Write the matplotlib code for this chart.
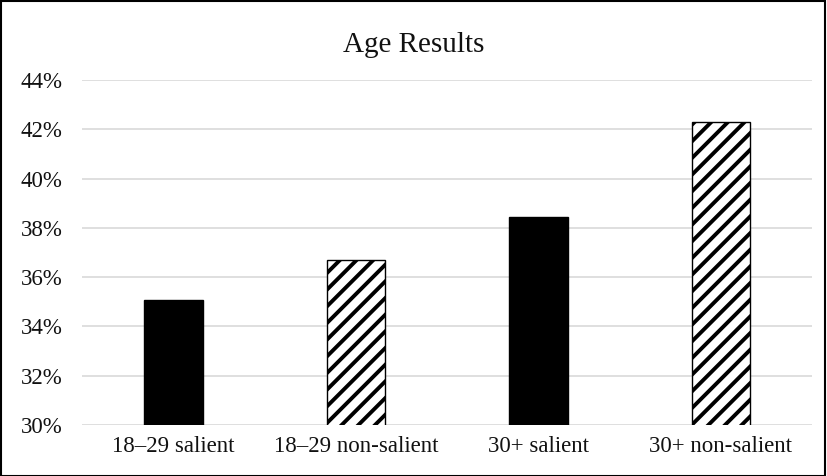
import matplotlib
matplotlib.use("Agg")
import matplotlib.pyplot as plt
from matplotlib.patches import Rectangle
from matplotlib.ticker import FuncFormatter

categories = ["18\u201329 salient", "18\u201329 non-salient", "30+ salient", "30+ non-salient"]
values = [35.08, 36.70, 38.45, 42.28]
hatches = ["", "//", "", "//"]
fills = ["black", "white", "black", "white"]
yticks = [30, 32, 34, 36, 38, 40, 42, 44]

plt.rcParams['font.family'] = ['Liberation Serif', 'DejaVu Serif']
plt.rcParams['hatch.linewidth'] = 2.8
plt.rcParams['hatch.color'] = 'black'

fig = plt.figure(figsize=(8.27, 4.76), dpi=100)
ax = fig.add_axes([0.0992, 0.107, 0.8828, 0.725])

x = range(len(categories))
for i in x:
    ax.bar(i, values[i], width=0.32, bottom=0, color=fills[i], hatch=hatches[i],
           edgecolor="black", linewidth=1.0, zorder=3)

ax.set_ylim(30, 44)
ax.set_xlim(-0.5, len(categories) - 0.5)
ax.set_yticks(yticks)
ax.yaxis.set_major_formatter(FuncFormatter(lambda v, p: f"{v:.0f}%"))
ax.set_xticks(list(x))
ax.set_xticklabels(categories)
ax.tick_params(axis='both', length=0, labelsize=16.5, colors='#111111')
ax.tick_params(axis='y', pad=14)
ax.tick_params(axis='x', pad=8)

ax.grid(axis='y', color='#d9d9d9', linewidth=1.2, zorder=0)
for s in ax.spines.values():
    s.set_visible(False)

fig.text(0.5, 0.905, "Age Results", ha='center', va='center', fontsize=21, color='#111111')

fig.patches.append(Rectangle((0.001, 0.001), 0.997, 0.997, transform=fig.transFigure,
                             fill=False, edgecolor='black', linewidth=1.5))

fig.savefig("out.png", dpi=100)
